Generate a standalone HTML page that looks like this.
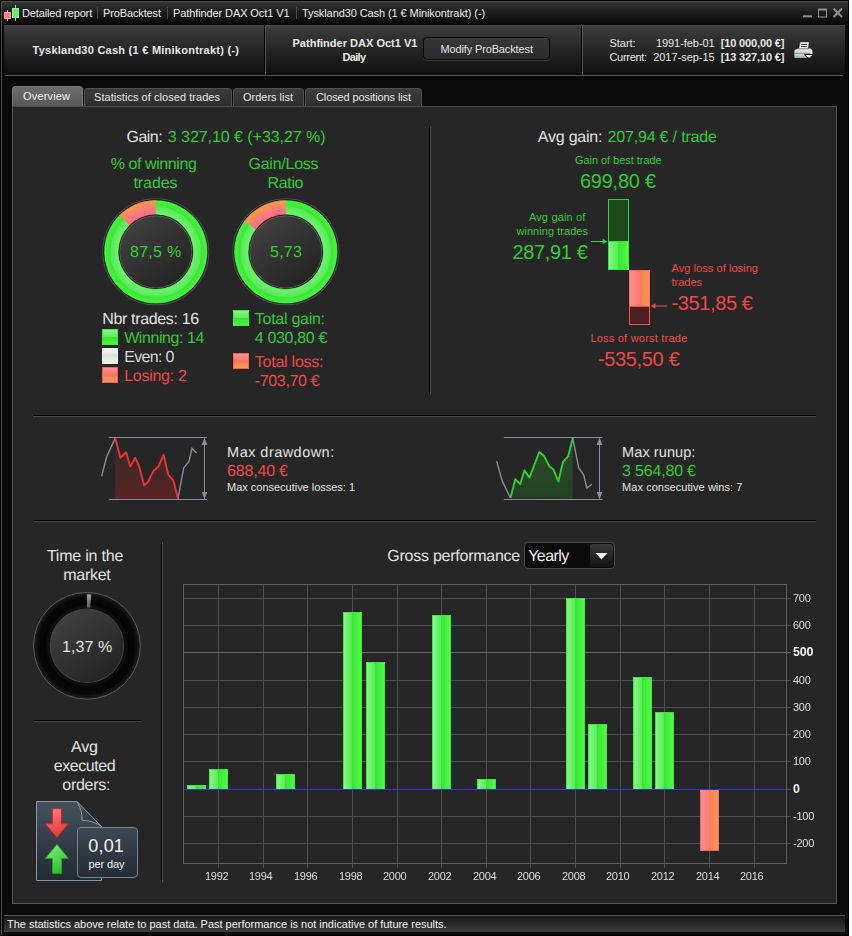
<!DOCTYPE html>
<html><head><meta charset="utf-8"><title>Detailed report</title>
<style>
*{box-sizing:border-box;margin:0;padding:0}
html,body{width:852px;height:936px;background:#000;overflow:hidden}
body{font-family:"Liberation Sans",sans-serif;color:#e0e0e0;position:relative}
.a{position:absolute;white-space:nowrap}
#win{left:1px;top:1px;width:848px;height:934px;background:#0a0a0a;border-left:1px solid #4c4c4c;border-top:1px solid #4c4c4c;border-right:1px solid #000}
#edge{left:849px;top:0;width:3px;height:936px;background:#fff}
#title{left:2px;top:2px;width:846px;height:22px;background:linear-gradient(#343434 0%,#1e1e1e 45%,#080808 100%)}
.tsep{top:7px;width:1px;height:12px;background:#4a4a4a}
#hdr{left:4px;top:25px;width:841px;height:50px;background:linear-gradient(#3e3e3e 0%,#2b2b2b 35%,#151515 85%,#0e0e0e 100%);border-top:1px solid #4c4c4c}
.vsep{width:2px;top:-1px;height:50px;border-left:1px solid #000;background:#555}
#hline{left:5px;top:75px;width:838px;height:1px;background:#555}
#btn{left:423px;top:37px;width:127px;height:23px;border:1px solid #0b0b0b;border-radius:4px;background:linear-gradient(#383838,#2a2a2a);box-shadow:0 1px 0 #3a3a3a}
.tab{height:18px;top:88px;background:linear-gradient(#3c3c3c,#2d2d2d);border:1px solid #505050;border-bottom:none;border-radius:4px 4px 0 0}
#tab0{left:12px;top:86px;width:71px;height:20px;background:linear-gradient(#6c6c6c,#585858);border-color:#7a7a7a}
#panel{left:12px;top:106px;width:825px;height:798px;background:#262626;border:1px solid #565656;border-top-color:#4c4c4c}
.hl{height:2px;border-top:1px solid #050505;background:#484848}
.vl{width:2px;border-left:1px solid #050505;background:#484848}
#status{left:4px;top:915px;width:841px;height:17px;background:linear-gradient(#181818,#3c3c3c);border-top:1px solid #555}
#dd{left:524px;top:542px;width:91px;height:27px;border:1px solid #4a4a4a;border-radius:4px;background:#0b0b0b}
#ddb{left:590px;top:544px;width:23px;height:23px;border-radius:3px;background:linear-gradient(#3a3a3a,#121212)}
#gfx{left:0;top:0}
</style></head><body>
<div id="win" class="a"></div><div id="edge" class="a"></div>
<div id="title" class="a"></div>
<div class="a tsep" style="left:97px"></div><div class="a tsep" style="left:167px"></div><div class="a tsep" style="left:296px"></div>
<div id="hdr" class="a">
 <div class="a vsep" style="left:260px"></div>
 <div class="a vsep" style="left:577px"></div>
</div>
<div id="hline" class="a"></div>
<div id="btn" class="a"></div>
<div id="tab0" class="a tab"></div>
<div class="a tab" style="left:84px;width:148px"></div>
<div class="a tab" style="left:233px;width:71px"></div>
<div class="a tab" style="left:305px;width:117px"></div>
<div id="panel" class="a"></div>
<div class="a vl" style="left:429px;top:127px;height:268px"></div>
<div class="a hl" style="left:33px;top:415px;width:783px"></div>
<div class="a hl" style="left:33px;top:520px;width:783px"></div>
<div class="a vl" style="left:161px;top:542px;height:341px"></div>
<div class="a hl" style="left:33px;top:720px;width:108px"></div>
<div id="dd" class="a"></div><div id="ddb" class="a"></div>
<div id="status" class="a"></div>
<svg id="gfx" class="a" width="852" height="936" viewBox="0 0 852 936">
<defs>
 <linearGradient id="gb" x1="0" x2="1" y1="0" y2="0"><stop offset="0" stop-color="#86fb86"/><stop offset="0.47" stop-color="#58ea58"/><stop offset="0.48" stop-color="#36e436"/><stop offset="1" stop-color="#52fc42"/></linearGradient>
 <linearGradient id="rb" x1="0" x2="1" y1="0" y2="0"><stop offset="0" stop-color="#ff9292"/><stop offset="0.47" stop-color="#ff7878"/><stop offset="0.48" stop-color="#f87a58"/><stop offset="1" stop-color="#ff9a58"/></linearGradient>
 <linearGradient id="sqg" x1="0" x2="0" y1="0" y2="1"><stop offset="0" stop-color="#8cfa8c"/><stop offset="0.47" stop-color="#60e860"/><stop offset="0.5" stop-color="#36e030"/><stop offset="1" stop-color="#4af642"/></linearGradient>
 <linearGradient id="sqw" x1="0" x2="0" y1="0" y2="1"><stop offset="0" stop-color="#ffffff"/><stop offset="0.47" stop-color="#dedede"/><stop offset="0.5" stop-color="#dde6d0"/><stop offset="1" stop-color="#f2f8e4"/></linearGradient>
 <linearGradient id="sqr" x1="0" x2="0" y1="0" y2="1"><stop offset="0" stop-color="#ff9696"/><stop offset="0.47" stop-color="#ff7272"/><stop offset="0.5" stop-color="#f07e50"/><stop offset="1" stop-color="#ff9c5a"/></linearGradient>
 <radialGradient id="ring1" gradientUnits="userSpaceOnUse" cx="155.8" cy="251.8" r="53"><stop offset="0.704" stop-color="#3ce63c"/><stop offset="0.722" stop-color="#6cf46c"/><stop offset="0.852" stop-color="#58e658"/><stop offset="0.862" stop-color="#38e832"/><stop offset="0.955" stop-color="#44f63a"/><stop offset="0.974" stop-color="#36e036"/></radialGradient>
 <radialGradient id="ring2" gradientUnits="userSpaceOnUse" cx="285.8" cy="251.8" r="53"><stop offset="0.704" stop-color="#3ce63c"/><stop offset="0.722" stop-color="#6cf46c"/><stop offset="0.852" stop-color="#58e658"/><stop offset="0.862" stop-color="#38e832"/><stop offset="0.955" stop-color="#44f63a"/><stop offset="0.974" stop-color="#36e036"/></radialGradient>
 <radialGradient id="red1" gradientUnits="userSpaceOnUse" cx="155.8" cy="251.8" r="53"><stop offset="0.704" stop-color="#ff5454"/><stop offset="0.725" stop-color="#f87480"/><stop offset="0.852" stop-color="#ff7e7e"/><stop offset="0.862" stop-color="#f6885c"/><stop offset="0.952" stop-color="#ff9852"/><stop offset="0.974" stop-color="#ff5848"/></radialGradient>
 <radialGradient id="red2" gradientUnits="userSpaceOnUse" cx="285.8" cy="251.8" r="53"><stop offset="0.704" stop-color="#ff5454"/><stop offset="0.725" stop-color="#f87480"/><stop offset="0.852" stop-color="#ff7e7e"/><stop offset="0.862" stop-color="#f6885c"/><stop offset="0.952" stop-color="#ff9852"/><stop offset="0.974" stop-color="#ff5848"/></radialGradient>
 <linearGradient id="disc" x1="0.15" y1="0.1" x2="0.8" y2="0.95"><stop offset="0" stop-color="#404040"/><stop offset="1" stop-color="#232323"/></linearGradient>
 <radialGradient id="ring3" gradientUnits="userSpaceOnUse" cx="86.9" cy="645.8" r="53.5"><stop offset="0.70" stop-color="#151515"/><stop offset="0.78" stop-color="#050505"/><stop offset="0.9" stop-color="#080808"/><stop offset="1" stop-color="#202020"/></radialGradient>
 <linearGradient id="tslice" gradientUnits="userSpaceOnUse" x1="0" y1="594" x2="0" y2="607.5"><stop offset="0" stop-color="#a8a8a8"/><stop offset="0.48" stop-color="#7a7a7a"/><stop offset="0.52" stop-color="#6a8460"/><stop offset="1" stop-color="#506a48"/></linearGradient>
 <linearGradient id="ddfill" x1="0" x2="0" y1="0" y2="1"><stop offset="0" stop-color="#443030" stop-opacity="0.5"/><stop offset="1" stop-color="#602222" stop-opacity="0.9"/></linearGradient>
 <linearGradient id="rufill" x1="0" x2="0" y1="0" y2="1"><stop offset="0" stop-color="#2c5a2c" stop-opacity="0.7"/><stop offset="1" stop-color="#254225" stop-opacity="0.95"/></linearGradient>
 <linearGradient id="docg" x1="0" x2="0" y1="0" y2="1"><stop offset="0" stop-color="#46525e"/><stop offset="1" stop-color="#222932"/></linearGradient>
 <linearGradient id="flap" x1="0" y1="0" x2="1" y2="1"><stop offset="0" stop-color="#46525e"/><stop offset="1" stop-color="#252c35"/></linearGradient>
 <linearGradient id="boxg" x1="0" x2="0" y1="0" y2="1"><stop offset="0" stop-color="#3c4854"/><stop offset="1" stop-color="#252c35"/></linearGradient>
 <linearGradient id="arr" x1="0.2" x2="0.6" y1="0" y2="1"><stop offset="0" stop-color="#ff7c7c"/><stop offset="1" stop-color="#e23636"/></linearGradient>
 <linearGradient id="arg" x1="0.2" x2="0.6" y1="0" y2="1"><stop offset="0" stop-color="#7cea7c"/><stop offset="1" stop-color="#2cc02c"/></linearGradient>
 <linearGradient id="prn" x1="0" x2="0" y1="0" y2="1"><stop offset="0" stop-color="#e4e7ea"/><stop offset="0.45" stop-color="#c2c6ca"/><stop offset="0.55" stop-color="#d6d9dc"/><stop offset="1" stop-color="#a4a8ac"/></linearGradient>
</defs>
<!-- title icon -->
<g shape-rendering="crispEdges"><rect x="7" y="10" width="1" height="11" fill="#f58c8c"/><rect x="4.5" y="12.5" width="6" height="6" fill="#ee8282" stroke="#ff9a9a"/><rect x="15" y="5" width="1" height="16" fill="#74f074"/><rect x="12.5" y="8.5" width="6" height="9" fill="#6ee36e" stroke="#82ff82"/></g>
<!-- window buttons -->
<g fill="none" stroke="#8e8e8e"><path d="M803 16.3h9" stroke-width="2"/><rect x="818.5" y="9.5" width="8" height="7.5"/><path d="M818 9.5h9" stroke-width="2"/><path d="M833.6 8.6l8.4 8.4M842 8.6l-8.4 8.4" stroke-width="2.1"/></g>
<!-- printer -->
<g><path d="M795.2 50.2L798 48.4H810.5L812.2 50V55H795.2Z" fill="#dfe3e6"/><path d="M794.4 50.6q0-0.8 0.8-0.8h15.2q0.8 0 0.8 0.8v6.4q0 0.9-0.9 0.9h-15q-0.9 0-0.9-0.9z" fill="url(#prn)"/><path d="M810.4 49.6l1.9 0.6v5h-1.9z" fill="#eceef0"/><path d="M794.4 53.4h16" stroke="#8e9499" stroke-width="1"/><path d="M800.1 42h9.1l-1.1 6.8h-9.3z" fill="#e9eef4" stroke="#222" stroke-width="0.4"/><path d="M801.3 44.5h5.6M801 46.5h5.6" stroke="#2c3c4c" stroke-width="1"/><path d="M804.2 53.9h8.8v1.2l-4.4 4.3l-4.4-4.3z" fill="#141414"/><path d="M805.7 55h6.6l-3.3 3.1z" fill="#f4f4f4"/></g>
<!-- dropdown arrow -->
<path d="M595.5 553h12l-6 6.5z" fill="#f4f4f4"/>
<!-- donut 1 -->
<g>
 <circle cx="155.8" cy="251.8" r="53" fill="none" stroke="#4c4c4c" stroke-width="1.1"/>
 <circle cx="155.8" cy="251.8" r="52.3" fill="#191317"/>
 <circle cx="155.8" cy="251.8" r="51.6" fill="url(#ring1)"/>
 <path d="M155.8 251.8 L155.8 200.20000000000002 A51.6 51.6 0 0 0 119.31 215.31 Z" fill="url(#red1)"/>
 <circle cx="155.8" cy="251.8" r="37.3" fill="#191317"/>
 <circle cx="155.8" cy="251.8" r="36.5" fill="#5a5a5a"/>
 <circle cx="155.8" cy="251.8" r="35.6" fill="url(#disc)"/>
</g>
<!-- donut 2 -->
<g>
 <circle cx="285.8" cy="251.8" r="53" fill="none" stroke="#4c4c4c" stroke-width="1.1"/>
 <circle cx="285.8" cy="251.8" r="52.3" fill="#191317"/>
 <circle cx="285.8" cy="251.8" r="51.6" fill="url(#ring2)"/>
 <path d="M285.8 251.8 L285.8 200.20000000000002 A51.6 51.6 0 0 0 244.32 221.11 Z" fill="url(#red2)"/>
 <circle cx="285.8" cy="251.8" r="37.3" fill="#191317"/>
 <circle cx="285.8" cy="251.8" r="36.5" fill="#5a5a5a"/>
 <circle cx="285.8" cy="251.8" r="35.6" fill="url(#disc)"/>
</g>
<!-- legend squares -->
<rect x="102.5" y="329.5" width="15" height="15" fill="url(#sqg)" stroke="#42f03a"/>
<rect x="102.5" y="348.5" width="15" height="15" fill="url(#sqw)" stroke="#f0f0f0"/>
<rect x="102.5" y="367.5" width="15" height="15" fill="url(#sqr)" stroke="#ff5a50"/>
<rect x="233.5" y="310.5" width="15" height="15" fill="url(#sqg)" stroke="#42f03a"/>
<rect x="233.5" y="353.5" width="15" height="15" fill="url(#sqr)" stroke="#ff5a50"/>
<!-- avg gain bars -->
<rect x="608.5" y="199.5" width="20" height="42" fill="#1c4a1c" stroke="#35d035"/>
<rect x="608.5" y="241.5" width="20" height="28" fill="url(#gb)" stroke="#3fe83f"/>
<rect x="629.5" y="270.5" width="20" height="36" fill="url(#rb)" stroke="#ff6e60"/>
<rect x="629.5" y="306.5" width="20" height="18" fill="#4e2020" stroke="#e85454"/>
<path d="M591 241.5h13" stroke="#35d035" fill="none"/><path d="M607.3 241.5l-4.6-2.7v5.4z" fill="#35d035"/>
<path d="M667 306h-13" stroke="#e85454" fill="none"/><path d="M650.8 306l4.6-2.7v5.4z" fill="#e85454"/>
<!-- drawdown icon -->
<g fill="none">
 <path d="M115.3 438.1L120.4 457.7L126.1 452.3L130.3 466.5L135.2 457.7L139 466L144.2 485.4L148.3 481.5L153.2 471.2L158.4 466.5L163.6 454.9L168.2 474.5L173.4 480.7L178 498.8L115.3 498.8Z" fill="url(#ddfill)"/>
 <path d="M108.8 437.5H207M108.8 499.5H207M204.5 440v57" stroke="#8c8c9c"/>
 <path d="M204.5 437.5l2.8 7.5h-5.6zM204.5 499.5l2.8-7.5h-5.6z" fill="#8c8c9c"/>
 <path d="M101.6 476.3L106.8 456.5L115.3 438.1" stroke="#8c8c9c" stroke-width="1.4"/>
 <path d="M178 498.8L183.7 467.8L188.9 461.6L192 448.4L196.6 453.1" stroke="#8c8c9c" stroke-width="1.4"/>
 <path d="M115.3 438.1L120.4 457.7L126.1 452.3L130.3 466.5L135.2 457.7L139 466L144.2 485.4L148.3 481.5L153.2 471.2L158.4 466.5L163.6 454.9L168.2 474.5L173.4 480.7L178 498.8" stroke="#f03030" stroke-width="1.9" stroke-linejoin="round"/>
</g>
<!-- runup icon -->
<g fill="none">
 <path d="M510.4 498L515.3 479.2L520.2 484.2L524.5 470.3L529.4 477.6L539.3 452L544.2 456.2L549.2 466.1L553.4 469.4L558.4 481.5L563 461.8L568.2 456.2L572.8 438.1L572.8 498.8Z" fill="url(#rufill)"/>
 <path d="M503.8 437.5H602.4M503.8 499.5H602.4M599.5 440v57" stroke="#8c8c9c"/>
 <path d="M599.5 437.5l2.8 7.5h-5.6zM599.5 499.5l2.8-7.5h-5.6z" fill="#8c8c9c"/>
 <path d="M496.6 461.1L502.2 480.9L510.4 498" stroke="#8c8c9c" stroke-width="1.4"/>
 <path d="M572.8 438.1L578.7 467.7L583.7 475L586.9 488.1L591.9 484.2" stroke="#8c8c9c" stroke-width="1.4"/>
 <path d="M510.4 498L515.3 479.2L520.2 484.2L524.5 470.3L529.4 477.6L539.3 452L544.2 456.2L549.2 466.1L553.4 469.4L558.4 481.5L563 461.8L568.2 456.2L572.8 438.1" stroke="#30d030" stroke-width="1.9" stroke-linejoin="round"/>
</g>
<!-- time donut -->
<g>
 <circle cx="86.9" cy="645.8" r="53.4" fill="url(#ring3)" stroke="#5a5a5a" stroke-width="1"/>
 <path d="M86.9 645.8 L86.9 594.3 A51.5 51.5 0 0 1 91.33 594.49 Z" fill="url(#tslice)"/>
 <circle cx="86.9" cy="645.8" r="38.4" fill="#0e0e0e"/>
 <circle cx="86.9" cy="645.8" r="37.2" fill="#484848"/>
 <circle cx="86.9" cy="645.8" r="36.5" fill="url(#disc)"/>
</g>
<!-- doc icon -->
<g>
 <path d="M36.5 801.5H76.5L101.5 826.5V880.5H36.5Z" fill="url(#docg)" stroke="#8a98a8"/>
 <path d="M77 801.5Q82.6 811 82 820.2Q93 820.5 101.5 826.4Z" fill="url(#flap)" stroke="#93a1af" stroke-width="0.9"/>
 <path d="M52.5 808.6H61.5V823.8H68.5L56.9 837.5L45.4 823.8H52.5Z" fill="url(#arr)" stroke="#c42424" stroke-width="0.9"/>
 <path d="M52.5 873.6H61.5V858.4H68.5L56.9 844.3L45.4 858.4H52.5Z" fill="url(#arg)" stroke="#22a422" stroke-width="0.9"/>
 <rect x="77.5" y="827.5" width="60" height="50" rx="3.5" fill="url(#boxg)" stroke="#75828f"/>
</g>
<!-- chart -->
<g shape-rendering="crispEdges">
<line x1="218.5" y1="584.5" x2="218.5" y2="867.5" stroke="#4e4e4e"/>
<line x1="263.5" y1="584.5" x2="263.5" y2="867.5" stroke="#4e4e4e"/>
<line x1="307.5" y1="584.5" x2="307.5" y2="867.5" stroke="#4e4e4e"/>
<line x1="352.5" y1="584.5" x2="352.5" y2="867.5" stroke="#4e4e4e"/>
<line x1="397.5" y1="584.5" x2="397.5" y2="867.5" stroke="#4e4e4e"/>
<line x1="441.5" y1="584.5" x2="441.5" y2="867.5" stroke="#4e4e4e"/>
<line x1="486.5" y1="584.5" x2="486.5" y2="867.5" stroke="#4e4e4e"/>
<line x1="530.5" y1="584.5" x2="530.5" y2="867.5" stroke="#4e4e4e"/>
<line x1="575.5" y1="584.5" x2="575.5" y2="867.5" stroke="#4e4e4e"/>
<line x1="620.5" y1="584.5" x2="620.5" y2="867.5" stroke="#4e4e4e"/>
<line x1="664.5" y1="584.5" x2="664.5" y2="867.5" stroke="#4e4e4e"/>
<line x1="709.5" y1="584.5" x2="709.5" y2="867.5" stroke="#4e4e4e"/>
<line x1="754.5" y1="584.5" x2="754.5" y2="867.5" stroke="#4e4e4e"/>
<line x1="183.5" y1="843.5" x2="790.5" y2="843.5" stroke="#4e4e4e"/>
<line x1="183.5" y1="816.5" x2="790.5" y2="816.5" stroke="#4e4e4e"/>
<line x1="183.5" y1="789.5" x2="790.5" y2="789.5" stroke="#4e4e4e"/>
<line x1="183.5" y1="761.5" x2="790.5" y2="761.5" stroke="#4e4e4e"/>
<line x1="183.5" y1="734.5" x2="790.5" y2="734.5" stroke="#4e4e4e"/>
<line x1="183.5" y1="707.5" x2="790.5" y2="707.5" stroke="#4e4e4e"/>
<line x1="183.5" y1="680.5" x2="790.5" y2="680.5" stroke="#4e4e4e"/>
<line x1="183.5" y1="652.5" x2="790.5" y2="652.5" stroke="#6a6a6a"/>
<line x1="183.5" y1="625.5" x2="790.5" y2="625.5" stroke="#4e4e4e"/>
<line x1="183.5" y1="598.5" x2="790.5" y2="598.5" stroke="#4e4e4e"/>
<rect x="183.5" y="584.5" width="603.0" height="279.0" fill="none" stroke="#5e5e5e"/>
<rect x="187.5" y="785.5" width="18" height="4" fill="url(#gb)" stroke="#40ea38"/>
<rect x="209.5" y="769.5" width="18" height="20" fill="url(#gb)" stroke="#40ea38"/>
<rect x="276.5" y="774.5" width="18" height="15" fill="url(#gb)" stroke="#40ea38"/>
<rect x="343.5" y="612.5" width="18" height="177" fill="url(#gb)" stroke="#40ea38"/>
<rect x="366.5" y="662.5" width="18" height="127" fill="url(#gb)" stroke="#40ea38"/>
<rect x="432.5" y="615.5" width="18" height="174" fill="url(#gb)" stroke="#40ea38"/>
<rect x="477.5" y="779.5" width="18" height="10" fill="url(#gb)" stroke="#40ea38"/>
<rect x="566.5" y="598.5" width="18" height="191" fill="url(#gb)" stroke="#40ea38"/>
<rect x="588.5" y="724.5" width="18" height="65" fill="url(#gb)" stroke="#40ea38"/>
<rect x="633.5" y="677.5" width="18" height="112" fill="url(#gb)" stroke="#40ea38"/>
<rect x="655.5" y="712.5" width="18" height="77" fill="url(#gb)" stroke="#40ea38"/>
<rect x="700.5" y="789.5" width="18" height="61" fill="url(#rb)" stroke="#ff6658"/>
<rect x="184" y="789" width="602" height="1.3" fill="#3232e6"/>
</g>
</svg>
<span class="a" style="left:22.0px;top:8px;font-size:11px;line-height:11px;color:#ececec;letter-spacing:-0.14px;">Detailed report</span>
<span class="a" style="left:103.0px;top:8px;font-size:11px;line-height:11px;color:#ececec;letter-spacing:-0.13px;">ProBacktest</span>
<span class="a" style="left:173.0px;top:8px;font-size:11px;line-height:11px;color:#ececec;letter-spacing:-0.10px;">Pathfinder DAX Oct1 V1</span>
<span class="a" style="left:302.0px;top:8px;font-size:11px;line-height:11px;color:#ececec;letter-spacing:-0.09px;">Tyskland30 Cash (1 € Minikontrakt) (-)</span>
<span class="a" style="left:32.5px;top:45px;font-size:11px;line-height:11px;color:#e8e8e8;font-weight:bold;letter-spacing:0.25px;">Tyskland30 Cash (1 € Minikontrakt) (-)</span>
<span class="a" style="left:292.5px;top:38px;font-size:11px;line-height:11px;color:#e8e8e8;font-weight:bold;letter-spacing:0.01px;">Pathfinder DAX Oct1 V1</span>
<span class="a" style="left:342.4px;top:52px;font-size:11px;line-height:11px;color:#e8e8e8;font-weight:bold;letter-spacing:-0.65px;">Daily</span>
<span class="a" style="left:440.4px;top:44px;font-size:11px;line-height:11px;color:#e4e4e4;letter-spacing:-0.13px;">Modify ProBacktest</span>
<span class="a" style="left:609.4px;top:38px;font-size:11px;line-height:11px;color:#e8e8e8;">Start:</span>
<span class="a" style="left:655.9px;top:38px;font-size:11px;line-height:11px;color:#e8e8e8;letter-spacing:-0.05px;">1991-feb-01</span>
<span class="a" style="left:720.7px;top:38px;font-size:11px;line-height:11px;color:#e8e8e8;font-weight:bold;letter-spacing:-0.14px;">[10 000,00 €]</span>
<span class="a" style="left:609.4px;top:52px;font-size:11px;line-height:11px;color:#e8e8e8;letter-spacing:-0.28px;">Current:</span>
<span class="a" style="left:653.2px;top:52px;font-size:11px;line-height:11px;color:#e8e8e8;letter-spacing:-0.03px;">2017-sep-15</span>
<span class="a" style="left:720.7px;top:52px;font-size:11px;line-height:11px;color:#e8e8e8;font-weight:bold;letter-spacing:-0.14px;">[13 327,10 €]</span>
<span class="a" style="left:23.0px;top:91px;font-size:11px;line-height:11px;color:#f0f0f0;letter-spacing:0.17px;">Overview</span>
<span class="a" style="left:94.0px;top:92px;font-size:11px;line-height:11px;color:#e6e6e6;letter-spacing:0.05px;">Statistics of closed trades</span>
<span class="a" style="left:243.0px;top:92px;font-size:11px;line-height:11px;color:#e6e6e6;letter-spacing:-0.01px;">Orders list</span>
<span class="a" style="left:316.0px;top:92px;font-size:11px;line-height:11px;color:#e6e6e6;letter-spacing:-0.11px;">Closed positions list</span>
<span class="a" style="left:126.6px;top:130px;font-size:16px;line-height:16px;color:#e2e2e2;text-rendering:geometricPrecision;letter-spacing:-0.56px;">Gain:</span>
<span class="a" style="left:167.8px;top:130px;font-size:16px;line-height:16px;color:#2fcb2f;text-rendering:geometricPrecision;letter-spacing:-0.05px;">3 327,10 € (+33,27 %)</span>
<span class="a" style="left:110.7px;top:157px;font-size:16px;line-height:16px;color:#2fcb2f;text-rendering:geometricPrecision;letter-spacing:-0.42px;">% of winning</span>
<span class="a" style="left:133.5px;top:176px;font-size:16px;line-height:16px;color:#2fcb2f;text-rendering:geometricPrecision;letter-spacing:-0.09px;">trades</span>
<span class="a" style="left:248.5px;top:157px;font-size:16px;line-height:16px;color:#2fcb2f;text-rendering:geometricPrecision;letter-spacing:-0.25px;">Gain/Loss</span>
<span class="a" style="left:267.5px;top:176px;font-size:16px;line-height:16px;color:#2fcb2f;text-rendering:geometricPrecision;letter-spacing:-0.34px;">Ratio</span>
<span class="a" style="left:130.0px;top:245px;font-size:16px;line-height:16px;color:#2fcb2f;text-rendering:geometricPrecision;letter-spacing:0.28px;">87,5 %</span>
<span class="a" style="left:270.1px;top:245px;font-size:16px;line-height:16px;color:#2fcb2f;text-rendering:geometricPrecision;letter-spacing:0.19px;">5,73</span>
<span class="a" style="left:102.2px;top:312px;font-size:16px;line-height:16px;color:#e2e2e2;text-rendering:geometricPrecision;letter-spacing:-0.34px;">Nbr trades: 16</span>
<span class="a" style="left:124.2px;top:331px;font-size:16px;line-height:16px;color:#2fcb2f;text-rendering:geometricPrecision;letter-spacing:-0.42px;">Winning: 14</span>
<span class="a" style="left:124.2px;top:350px;font-size:16px;line-height:16px;color:#d8d8d8;text-rendering:geometricPrecision;letter-spacing:-0.66px;">Even: 0</span>
<span class="a" style="left:124.2px;top:369px;font-size:16px;line-height:16px;color:#f04646;text-rendering:geometricPrecision;letter-spacing:-0.27px;">Losing: 2</span>
<span class="a" style="left:254.8px;top:312px;font-size:16px;line-height:16px;color:#2fcb2f;text-rendering:geometricPrecision;letter-spacing:-0.27px;">Total gain:</span>
<span class="a" style="left:254.8px;top:331px;font-size:16px;line-height:16px;color:#2fcb2f;text-rendering:geometricPrecision;letter-spacing:-0.34px;">4 030,80 €</span>
<span class="a" style="left:254.8px;top:355px;font-size:16px;line-height:16px;color:#f04646;text-rendering:geometricPrecision;letter-spacing:-0.24px;">Total loss:</span>
<span class="a" style="left:254.8px;top:374px;font-size:16px;line-height:16px;color:#f04646;text-rendering:geometricPrecision;letter-spacing:-0.36px;">-703,70 €</span>
<span class="a" style="left:537.8px;top:130px;font-size:16px;line-height:16px;color:#e2e2e2;text-rendering:geometricPrecision;letter-spacing:-0.22px;">Avg gain:</span>
<span class="a" style="left:607.5px;top:130px;font-size:16px;line-height:16px;color:#2fcb2f;text-rendering:geometricPrecision;letter-spacing:-0.18px;">207,94 € / trade</span>
<span class="a" style="left:574.9px;top:155px;font-size:11px;line-height:11px;color:#2fcb2f;letter-spacing:-0.04px;">Gain of best trade</span>
<span class="a" style="left:579.9px;top:171px;font-size:20px;line-height:20px;color:#2fcb2f;letter-spacing:-0.22px;">699,80 €</span>
<span class="a" style="left:528.9px;top:212px;font-size:11px;line-height:11px;color:#2fcb2f;letter-spacing:0.17px;">Avg gain of</span>
<span class="a" style="left:516.4px;top:226px;font-size:11px;line-height:11px;color:#2fcb2f;letter-spacing:0.05px;">winning trades</span>
<span class="a" style="left:512.5px;top:242px;font-size:20px;line-height:20px;color:#2fcb2f;letter-spacing:-0.34px;">287,91 €</span>
<span class="a" style="left:671.5px;top:263px;font-size:11px;line-height:11px;color:#f04646;letter-spacing:0.06px;">Avg loss of losing</span>
<span class="a" style="left:671.5px;top:277px;font-size:11px;line-height:11px;color:#f04646;letter-spacing:-0.01px;">trades</span>
<span class="a" style="left:671.5px;top:293px;font-size:20px;line-height:20px;color:#f04646;letter-spacing:-0.38px;">-351,85 €</span>
<span class="a" style="left:590.4px;top:333px;font-size:11px;line-height:11px;color:#f04646;letter-spacing:0.22px;">Loss of worst trade</span>
<span class="a" style="left:597.9px;top:349px;font-size:20px;line-height:20px;color:#f04646;letter-spacing:-0.33px;">-535,50 €</span>
<span class="a" style="left:227.1px;top:446px;font-size:14.5px;line-height:15px;color:#e2e2e2;text-rendering:geometricPrecision;letter-spacing:0.46px;">Max drawdown:</span>
<span class="a" style="left:227.1px;top:464px;font-size:16px;line-height:16px;color:#f04646;text-rendering:geometricPrecision;letter-spacing:-0.20px;">688,40 €</span>
<span class="a" style="left:227.1px;top:482px;font-size:11px;line-height:11px;color:#e2e2e2;letter-spacing:-0.02px;">Max consecutive losses: 1</span>
<span class="a" style="left:622.1px;top:446px;font-size:14.5px;line-height:15px;color:#e2e2e2;text-rendering:geometricPrecision;letter-spacing:0.08px;">Max runup:</span>
<span class="a" style="left:622.1px;top:464px;font-size:16px;line-height:16px;color:#2fcb2f;text-rendering:geometricPrecision;letter-spacing:-0.19px;">3 564,80 €</span>
<span class="a" style="left:622.1px;top:482px;font-size:11px;line-height:11px;color:#e2e2e2;letter-spacing:0.05px;">Max consecutive wins: 7</span>
<span class="a" style="left:46.9px;top:549px;font-size:16px;line-height:16px;color:#e2e2e2;text-rendering:geometricPrecision;letter-spacing:-0.21px;">Time in the</span>
<span class="a" style="left:63.3px;top:568px;font-size:16px;line-height:16px;color:#e2e2e2;text-rendering:geometricPrecision;letter-spacing:-0.28px;">market</span>
<span class="a" style="left:61.9px;top:640px;font-size:16px;line-height:16px;color:#e2e2e2;text-rendering:geometricPrecision;letter-spacing:0.12px;">1,37 %</span>
<span class="a" style="left:71.0px;top:740px;font-size:16px;line-height:16px;color:#e2e2e2;text-rendering:geometricPrecision;letter-spacing:-0.14px;">Avg</span>
<span class="a" style="left:53.7px;top:759px;font-size:16px;line-height:16px;color:#e2e2e2;text-rendering:geometricPrecision;letter-spacing:-0.41px;">executed</span>
<span class="a" style="left:62.3px;top:778px;font-size:16px;line-height:16px;color:#e2e2e2;text-rendering:geometricPrecision;letter-spacing:-0.28px;">orders:</span>
<span class="a" style="left:88.3px;top:837px;font-size:18px;line-height:18px;color:#f0f0f0;letter-spacing:0.16px;">0,01</span>
<span class="a" style="left:88.5px;top:859px;font-size:11px;line-height:11px;color:#f0f0f0;letter-spacing:-0.12px;">per day</span>
<span class="a" style="left:387.3px;top:549px;font-size:16px;line-height:16px;color:#e2e2e2;text-rendering:geometricPrecision;letter-spacing:-0.25px;">Gross performance</span>
<span class="a" style="left:528.2px;top:549px;font-size:16px;line-height:16px;color:#f0f0f0;text-rendering:geometricPrecision;letter-spacing:-0.56px;">Yearly</span>
<span class="a" style="left:7.0px;top:919px;font-size:11px;line-height:11px;color:#f0f0f0;letter-spacing:-0.02px;">The statistics above relate to past data. Past performance is not indicative of future results.</span>
<span class="a" style="left:792.8px;top:837.8px;font-size:11px;line-height:11px;color:#dedede;letter-spacing:-0.25px;will-change:transform;">-200</span>
<span class="a" style="left:792.8px;top:810.8px;font-size:11px;line-height:11px;color:#dedede;letter-spacing:-0.25px;will-change:transform;">-100</span>
<span class="a" style="left:792.6px;top:783.1px;font-size:12.5px;line-height:13px;color:#f4f4f4;font-weight:bold;letter-spacing:-0.2px;will-change:transform;">0</span>
<span class="a" style="left:792.8px;top:755.8px;font-size:11px;line-height:11px;color:#dedede;letter-spacing:-0.25px;will-change:transform;">100</span>
<span class="a" style="left:792.8px;top:728.8px;font-size:11px;line-height:11px;color:#dedede;letter-spacing:-0.25px;will-change:transform;">200</span>
<span class="a" style="left:792.8px;top:701.8px;font-size:11px;line-height:11px;color:#dedede;letter-spacing:-0.25px;will-change:transform;">300</span>
<span class="a" style="left:792.8px;top:674.8px;font-size:11px;line-height:11px;color:#dedede;letter-spacing:-0.25px;will-change:transform;">400</span>
<span class="a" style="left:792.6px;top:646.1px;font-size:12.5px;line-height:13px;color:#f4f4f4;font-weight:bold;letter-spacing:-0.2px;will-change:transform;">500</span>
<span class="a" style="left:792.8px;top:619.8px;font-size:11px;line-height:11px;color:#dedede;letter-spacing:-0.25px;will-change:transform;">600</span>
<span class="a" style="left:792.8px;top:592.8px;font-size:11px;line-height:11px;color:#dedede;letter-spacing:-0.25px;will-change:transform;">700</span>
<span class="a" style="left:204.7px;top:871px;font-size:11px;line-height:11px;color:#dedede;letter-spacing:-0.25px;will-change:transform;">1992</span>
<span class="a" style="left:249.3px;top:871px;font-size:11px;line-height:11px;color:#dedede;letter-spacing:-0.25px;will-change:transform;">1994</span>
<span class="a" style="left:293.9px;top:871px;font-size:11px;line-height:11px;color:#dedede;letter-spacing:-0.25px;will-change:transform;">1996</span>
<span class="a" style="left:338.6px;top:871px;font-size:11px;line-height:11px;color:#dedede;letter-spacing:-0.25px;will-change:transform;">1998</span>
<span class="a" style="left:383.2px;top:871px;font-size:11px;line-height:11px;color:#dedede;letter-spacing:-0.25px;will-change:transform;">2000</span>
<span class="a" style="left:427.9px;top:871px;font-size:11px;line-height:11px;color:#dedede;letter-spacing:-0.25px;will-change:transform;">2002</span>
<span class="a" style="left:472.5px;top:871px;font-size:11px;line-height:11px;color:#dedede;letter-spacing:-0.25px;will-change:transform;">2004</span>
<span class="a" style="left:517.1px;top:871px;font-size:11px;line-height:11px;color:#dedede;letter-spacing:-0.25px;will-change:transform;">2006</span>
<span class="a" style="left:561.8px;top:871px;font-size:11px;line-height:11px;color:#dedede;letter-spacing:-0.25px;will-change:transform;">2008</span>
<span class="a" style="left:606.4px;top:871px;font-size:11px;line-height:11px;color:#dedede;letter-spacing:-0.25px;will-change:transform;">2010</span>
<span class="a" style="left:651.1px;top:871px;font-size:11px;line-height:11px;color:#dedede;letter-spacing:-0.25px;will-change:transform;">2012</span>
<span class="a" style="left:695.7px;top:871px;font-size:11px;line-height:11px;color:#dedede;letter-spacing:-0.25px;will-change:transform;">2014</span>
<span class="a" style="left:740.3px;top:871px;font-size:11px;line-height:11px;color:#dedede;letter-spacing:-0.25px;will-change:transform;">2016</span>
</body></html>
